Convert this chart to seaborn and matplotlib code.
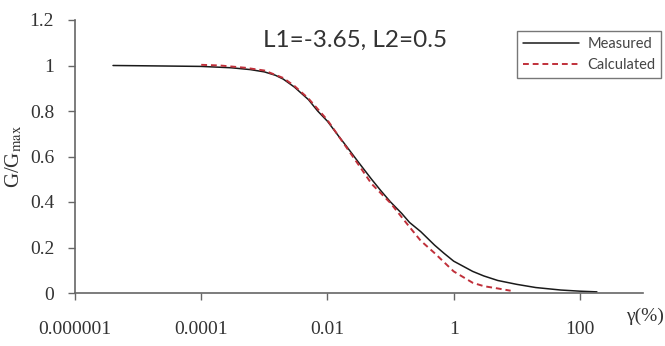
import numpy as np
import pandas as pd
import seaborn as sns
import matplotlib
matplotlib.use("Agg")
import matplotlib.pyplot as plt
from matplotlib.lines import Line2D

# values
measured_gamma = [0.000004, 0.00001, 0.0001, 0.0003, 0.0006, 0.001, 0.0015, 0.002, 0.003,
                  0.005, 0.007, 0.01, 0.015, 0.02, 0.03, 0.05, 0.07, 0.1, 0.15, 0.2, 0.3,
                  0.5, 0.7, 1, 2, 3, 5, 10, 20, 50, 100, 186]
measured_g = [1.0, 0.999, 0.996, 0.99, 0.982, 0.972, 0.957, 0.94, 0.905,
              0.85, 0.80, 0.755, 0.69, 0.645, 0.58, 0.50, 0.45, 0.40, 0.35, 0.31, 0.27,
              0.21, 0.175, 0.14, 0.095, 0.075, 0.055, 0.038, 0.024, 0.013, 0.008, 0.005]

calc_gamma = [0.0001, 0.0002, 0.0005, 0.001, 0.002, 0.003, 0.005, 0.01, 0.02, 0.03,
              0.05, 0.1, 0.2, 0.3, 0.5, 1, 2, 3, 5, 8]
calc_g = [1.003, 1.0, 0.99, 0.978, 0.945, 0.91, 0.855, 0.76, 0.64, 0.57,
          0.48, 0.395, 0.29, 0.23, 0.175, 0.095, 0.045, 0.03, 0.02, 0.01]

x_ticks = [0.000001, 0.0001, 0.01, 1, 100]
x_ticklabels = ["0.000001", "0.0001", "0.01", "1", "100"]
y_ticks = [0, 0.2, 0.4, 0.6, 0.8, 1, 1.2]
y_ticklabels = ["0", "0.2", "0.4", "0.6", "0.8", "1", "1.2"]

df = pd.concat([
    pd.DataFrame({"gamma": measured_gamma, "G": measured_g, "curve": "Measured"}),
    pd.DataFrame({"gamma": calc_gamma, "G": calc_g, "curve": "Calculated"}),
])

sns.set_style("ticks")
plt.rcParams["mathtext.fontset"] = "stix"

fig = plt.figure(figsize=(6.65, 3.46), dpi=100)
ax = fig.add_axes([75 / 665, 1 - 293 / 346, (643 - 75) / 665, (293 - 20) / 346])

sns.lineplot(data=df, x="gamma", y="G", hue="curve", style="curve",
             palette={"Measured": "#1a1a1a", "Calculated": "#c0303a"},
             dashes={"Measured": "", "Calculated": (3, 2)},
             sort=False, ax=ax, legend=False)
ax.lines[0].set_linewidth(1.1)
ax.lines[1].set_linewidth(1.4)

ax.set_xscale("log")
ax.set_xlim(0.000001, 1000)
ax.set_ylim(0, 1.2)
ax.minorticks_off()
ax.set_xticks(x_ticks)
ax.set_xticklabels(x_ticklabels)
ax.set_yticks(y_ticks)
ax.set_yticklabels(y_ticklabels)

serif = "Liberation Serif"
for lab in ax.get_xticklabels() + ax.get_yticklabels():
    lab.set_fontfamily(serif)
    lab.set_fontsize(14)
    lab.set_color("#333333")

ax.tick_params(axis="x", bottom=True, direction="out", length=5, width=1, color="#666666", pad=15)
ax.tick_params(axis="y", left=True, direction="out", length=5, width=1, color="#666666", pad=10)

for s in ["top", "right"]:
    ax.spines[s].set_visible(False)
for s in ["left", "bottom"]:
    ax.spines[s].set_color("#666666")
    ax.spines[s].set_linewidth(1.2)

ax.set_xlabel("")
ax.set_ylabel(r"G/G$_{\mathrm{max}}$", fontfamily=serif, fontsize=15, color="#333333", labelpad=4)

fig.text(0.999, 1 - 316 / 346, "γ(%)", ha="right", va="center",
         fontfamily=serif, fontsize=14, color="#333333")
fig.text(355 / 665, 1 - 40 / 346, "L1=-3.65, L2=0.5", ha="center", va="center",
         fontfamily="Lato", fontsize=17.5, color="#333333")

handles = [Line2D([], [], color="#1a1a1a", lw=1.1),
           Line2D([], [], color="#c0303a", lw=1.4, dashes=(3, 2))]
leg = fig.legend(handles, ["Measured", "Calculated"], loc="upper left",
                 bbox_to_anchor=(510 / 665, 1 - 24 / 346), bbox_transform=fig.transFigure,
                 frameon=True, fancybox=False, handlelength=3.8, handletextpad=0.6,
                 borderpad=0.4, labelspacing=0.5, prop={"family": "Lato", "size": 10.5})
leg.get_frame().set_edgecolor("#555555")
leg.get_frame().set_linewidth(1.0)
for t in leg.get_texts():
    t.set_color("#444444")

fig.savefig("out.png", dpi=100)
